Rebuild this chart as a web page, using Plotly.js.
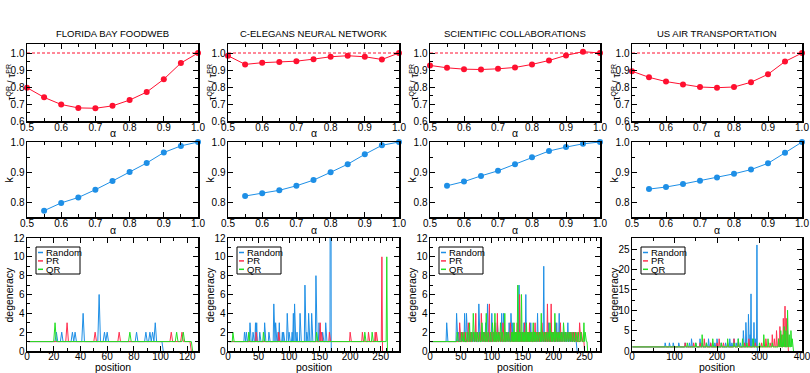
<!DOCTYPE html>
<html><head><meta charset="utf-8">
<script src="https://cdn.plot.ly/plotly-3.0.1.min.js"></script>
<style>body{margin:0;background:#fff}#chart{width:810px;height:373px}</style>
</head><body><div id="chart"></div>
<script>
// ---------------- DATA ----------------
const networks = ['FLORIDA BAY FOODWEB','C-ELEGANS NEURAL NETWORK','SCIENTIFIC COLLABORATIONS','US AIR TRANSPORTATION'];

const alphaTau = [0.5,0.55,0.6,0.65,0.7,0.75,0.8,0.85,0.9,0.95,1.0];
const tauFlorida = [0.796,0.739,0.697,0.677,0.675,0.689,0.723,0.770,0.846,0.941,1.0];
const tauElegans = [0.984,0.933,0.943,0.947,0.952,0.964,0.978,0.984,0.978,0.962,1.0];
const tauScience = [0.927,0.913,0.905,0.903,0.907,0.915,0.933,0.956,0.986,1.008,1.0];
const tauUsAir   = [0.893,0.857,0.832,0.814,0.800,0.796,0.800,0.828,0.875,0.950,1.0];

const alphaK = [0.55,0.6,0.65,0.7,0.75,0.8,0.85,0.9,0.95,1.0];
const kFlorida = [0.771,0.797,0.815,0.841,0.870,0.900,0.930,0.965,0.987,1.0];
const kElegans = [0.820,0.829,0.839,0.854,0.873,0.899,0.926,0.959,0.989,1.0];
const kScience = [0.854,0.868,0.887,0.904,0.926,0.949,0.970,0.983,0.994,1.0];
const kUsAir   = [0.843,0.850,0.860,0.871,0.882,0.894,0.908,0.929,0.964,1.0];

// degeneracy: value is 1 at every position up to the series length, except the listed positions
const flRandLen = 101;
const flRandPos = [22,26,34,36,42,54,58,60,82,89,92,94,96];
const flRandVal = [2,2,2,2,4,6,2,2,2,2,2,2,3];
const flPrLen = 122;
const flPrPos = [30,51,69,108,116];
const flPrVal = [3,2,2,2,2];
const flQrLen = 123;
const flQrPos = [21,77,112,117];
const flQrVal = [3,2,2,2];

const ceRandLen = 168;
const ceRandPos = [27,30,36,41,45,47,52,60,67,75,78,82,84,89,91,97,100,105,107,109,113,118,126,129,132,137,144,149,155,160,168];
const ceRandVal = [2,2,3,2,3,3,2,3,2,5,3,2,3,2,2,4,2,2,4,5,2,4,7,2,4,4,8,3,2,3,60];
const cePrLen = 252;
const cePrPos = [46,83,151,153,166,200,220,230,241,243,252];
const cePrVal = [2,2,3,2,2,2,2,2,2,2,10];
const ceQrLen = 260;
const ceQrPos = [8,34,58,145,224,236,260];
const ceQrVal = [2,2,2,2,2,2,10];

const scRandLen = 237;
const scRandPos = [27,43,46,49,52,56,59,62,65,68,71,74,79,82,85,88,90,93,96,100,103,106,109,112,116,119,122,125,128,131,134,136,138,140,142,144,146,148,150,152,155,157,159,161,163,165,167,169,171,174,176,178,180,182,184,186,188,190,192,194,196,198,200,203,205,207,209,211,213,215,218,220,223,225,227,230,232,235];
const scRandVal = [3,4,2,2,2,4,4,2,2,2,2,2,5,2,2,2,3,5,2,4,2,2,3,2,4,4,2,2,3,4,3,2,2,2,2,7,2,2,2,3,6,2,2,2,3,2,2,2,2,4,2,2,2,2,9,2,2,2,3,2,2,2,2,2,3,2,4,2,2,2,2,2,3,2,2,2,2,2];
const scPrLen = 249;
const scPrPos = [48,53,57,62,66,70,74,77,80,83,86,89,92,96,99,102,105,109,112,115,118,121,124,127,130,133,135,137,139,141,143,145,147,149,151,153,155,157,159,161,163,165,168,170,172,175,178,181,184,187,190,192,194,196,198,200,203,205,208,211,213,216,219,222,225,228,231,234,238,242,245];
const scPrVal = [3,2,2,3,2,2,4,2,2,4,2,2,2,5,2,2,3,4,2,2,3,2,2,2,3,2,2,2,2,3,2,6,2,2,2,3,2,2,2,3,2,2,2,3,2,2,2,3,2,2,5,2,2,5,2,2,3,2,2,3,2,2,2,2,2,2,2,2,2,3,2];
const scQrLen = 254;
const scQrPos = [44,51,55,60,64,67,70,73,76,80,84,87,91,94,98,101,105,108,111,114,117,121,124,127,132,134,136,138,140,142,144,146,148,150,152,154,156,158,160,162,164,167,169,171,174,177,180,182,185,188,191,194,197,199,202,204,207,210,213,216,219,222,225,228,232,236,240,244,249,251];
const scQrVal = [2,2,2,2,3,2,4,2,2,2,3,2,4,2,2,3,4,2,2,3,2,4,2,2,2,2,3,2,2,7,2,2,6,2,2,2,3,2,2,2,2,3,2,2,2,2,4,2,2,2,2,3,2,2,4,2,2,2,2,3,2,2,2,2,2,2,2,2,3,2];

const uaRandLen = 294;
const uaRandPos = [78,88,97,110,125,135,140,150,160,165,175,180,185,195,200,210,220,230,235,240,245,250,255,262,268,274,278,280,283,287,290,294];
const uaRandVal = [2,2,2,2,2,2,3,2,3,2,2,3,2,2,3,2,2,3,2,3,2,3,2,5,7,9,4,14,3,7,3,26];
const uaPrLen = 367;
const uaPrPos = [125,145,160,170,185,200,205,215,225,240,250,265,275,290,305,315,325,330,335,340,345,348,352,356,360,363,366];
const uaPrVal = [2,2,2,3,2,2,3,2,2,3,2,2,3,2,2,3,2,4,3,5,3,6,4,8,11,8,5];
const uaQrLen = 379;
const uaQrPos = [130,150,165,175,190,210,225,240,250,260,270,285,300,310,320,330,345,350,355,358,362,366,370,374,377];
const uaQrVal = [2,2,4,2,3,2,3,2,3,3,2,3,2,4,3,2,3,5,4,6,5,10,4,5,3];

const seriesNames = ['Random','PR','QR'];

// ---------------- BUILD ----------------
const W = 810, H = 373;
const colPx = [[27,198],[228,399],[430,600],[632,802]];
const rowPx = [[44,121],[142,217],[238,351]];
const FONT = 'Liberation Sans, Arial, Helvetica, sans-serif';
const RED = '#ff1030', BLUE = '#1e8fe6', LRED = '#ff3050', GREEN = '#22e022';

function expand(len, pos, val) {
  const x = [], y = [];
  for (let i = 1; i <= len; i++) {
    const k = pos.indexOf(i);
    x.push(i); y.push(k >= 0 ? val[k] : 1);
  }
  x.push(len + 1); y.push(0);
  return {x, y};
}

const tauSets = [tauFlorida, tauElegans, tauScience, tauUsAir];
const kSets = [kFlorida, kElegans, kScience, kUsAir];
const degSets = [
  [[flRandLen,flRandPos,flRandVal],[flPrLen,flPrPos,flPrVal],[flQrLen,flQrPos,flQrVal]],
  [[ceRandLen,ceRandPos,ceRandVal],[cePrLen,cePrPos,cePrVal],[ceQrLen,ceQrPos,ceQrVal]],
  [[scRandLen,scRandPos,scRandVal],[scPrLen,scPrPos,scPrVal],[scQrLen,scQrPos,scQrVal]],
  [[uaRandLen,uaRandPos,uaRandVal],[uaPrLen,uaPrPos,uaPrVal],[uaQrLen,uaQrPos,uaQrVal]]
];
const degXRange = [[0,128],[0,280],[0,275],[0,400]];
const degXDtick = [20,50,50,100];
const degXMinor = [10,10,10,50];
const degYRange = [[0,12],[0,12],[0,12],[0,27.7]];
const degYDtick = [2,2,2,5];
const degYMinor = [1,1,1,2.5];
const degColors = [BLUE, LRED, GREEN];

const traces = [];
const layout = {
  width: W, height: H, margin: {l:0,r:0,t:0,b:0},
  paper_bgcolor: '#fff', plot_bgcolor: '#fff', showlegend: false,
  annotations: [], shapes: []
};

function axBase() {
  return {showline:true, linecolor:'#000', linewidth:1.5, mirror:'allticks',
    ticks:'inside', ticklen:5, tickwidth:1, tickcolor:'#000',
    showgrid:false, zeroline:false, fixedrange:true, ticklabeloverflow:'allow',
    tickfont:{family:FONT, size:10, color:'#000'}};
}
function minor(d, t0) {
  return {ticks:'inside', ticklen:3, tickwidth:1, tickcolor:'#000', dtick:d, tick0:t0, showgrid:false};
}

for (let r = 0; r < 3; r++) {
  for (let c = 0; c < 4; c++) {
    const idx = r*4 + c + 1;
    const xn = idx === 1 ? 'xaxis' : 'xaxis' + idx;
    const yn = idx === 1 ? 'yaxis' : 'yaxis' + idx;
    const xr = 'x' + (idx === 1 ? '' : idx), yr = 'y' + (idx === 1 ? '' : idx);
    const xa = axBase(), ya = axBase();
    xa.domain = [colPx[c][0]/W, colPx[c][1]/W];
    ya.domain = [1 - rowPx[r][1]/H, 1 - rowPx[r][0]/H];
    xa.anchor = yr; ya.anchor = xr;
    xa.ticklabelstandoff = r === 2 ? -5 : -4;
    ya.ticklabelstandoff = -1;
    if (r < 2) {
      xa.range = [0.5, 1.0]; xa.dtick = 0.1; xa.tick0 = 0.5; xa.tickformat = '.1f';
      xa.minor = minor(0.05, 0.5);
      if (r === 0) {
        ya.range = [0.6, 1.053]; ya.dtick = 0.1; ya.tick0 = 0.6; ya.tickformat = '.1f';
        ya.minor = minor(0.05, 0.6);
      } else {
        ya.range = [0.75, 1.0]; ya.dtick = 0.1; ya.tick0 = 0.8; ya.tickformat = '.1f';
        ya.minor = minor(0.05, 0.75);
      }
    } else {
      xa.range = degXRange[c]; xa.dtick = degXDtick[c]; xa.tick0 = 0;
      xa.minor = minor(degXMinor[c], 0);
      ya.range = degYRange[c]; ya.dtick = degYDtick[c]; ya.tick0 = 0;
      ya.minor = minor(degYMinor[c], 0);
    }
    layout[xn] = xa; layout[yn] = ya;

    if (r === 0) {
      traces.push({x:[0.5,1.0], y:[1,1], xaxis:xr, yaxis:yr, mode:'lines',
        line:{color:RED, width:1, dash:'3px,2px'}, hoverinfo:'skip'});
      traces.push({x:alphaTau, y:tauSets[c], xaxis:xr, yaxis:yr, mode:'lines+markers', cliponaxis:false,
        line:{color:RED, width:1}, marker:{color:RED, size:6}});
    } else if (r === 1) {
      traces.push({x:alphaK, y:kSets[c], xaxis:xr, yaxis:yr, mode:'lines+markers', cliponaxis:false,
        line:{color:BLUE, width:1}, marker:{color:BLUE, size:6}});
    } else {
      for (let s = 0; s < 3; s++) {
        const d = degSets[c][s];
        const e = expand(d[0], d[1], d[2]);
        traces.push({x:e.x, y:e.y, xaxis:xr, yaxis:yr, mode:'lines', name:seriesNames[s],
          line:{color:degColors[s], width:1}});
      }
    }

    // axis titles as annotations
    const cx = (colPx[c][0] + colPx[c][1]) / 2 / W;
    const cy = 1 - (rowPx[r][0] + rowPx[r][1]) / 2 / H;
    const xt = r < 2 ? 'α' : 'position';
    const xty = r === 0 ? 133 : (r === 1 ? 230 : 367);
    layout.annotations.push({text:xt, xref:'paper', yref:'paper', x:cx, y:1 - xty/H,
      showarrow:false, font:{family:FONT, size:10.5, color:'#000'}, xanchor:'center', yanchor:'middle'});
    const yt = r === 0 ? 'τ<sup>QR</sup> / τ<sup>PR</sup>' : (r === 1 ? 'k' : 'degeneracy');
    const off = r === 0 ? 17 : 19;
    layout.annotations.push({text:yt, xref:'paper', yref:'paper', x:(colPx[c][0]-off)/W, y:cy,
      textangle:-90, showarrow:false, font:{family:FONT, size:r === 0 ? 10 : 10.5, color:'#000'},
      xanchor:'center', yanchor:'middle'});

    if (r === 0) {
      layout.annotations.push({text:networks[c], xref:'paper', yref:'paper', x:cx, y:1 - 33/H,
        showarrow:false, font:{family:FONT, size:9.5, color:'#000'}, xanchor:'center', yanchor:'middle'});
    }
    if (r === 2) {
      // legend box
      const bx0 = colPx[c][0] + 9, by0 = rowPx[r][0] + 9, bw = 44, bh = 27;
      layout.shapes.push({type:'rect', xref:'paper', yref:'paper',
        x0:bx0/W, x1:(bx0+bw)/W, y0:1-by0/H, y1:1-(by0+bh)/H,
        line:{color:'#000', width:1}, fillcolor:'#fff', layer:'above'});
      for (let s = 0; s < 3; s++) {
        const iy = by0 + 5.5 + s*8.4;
        layout.shapes.push({type:'line', xref:'paper', yref:'paper',
          x0:(bx0+2)/W, x1:(bx0+7)/W, y0:1-iy/H, y1:1-iy/H,
          line:{color:degColors[s], width:1.5}, layer:'above'});
        layout.annotations.push({text:seriesNames[s], xref:'paper', yref:'paper',
          x:(bx0+7.5)/W, y:1-iy/H, showarrow:false, xanchor:'left', yanchor:'middle',
          font:{family:FONT, size:9.5, color:'#000'}});
      }
    }
  }
}

Plotly.newPlot('chart', traces, layout, {displayModeBar:false, staticPlot:true});
</script>
</body></html>
